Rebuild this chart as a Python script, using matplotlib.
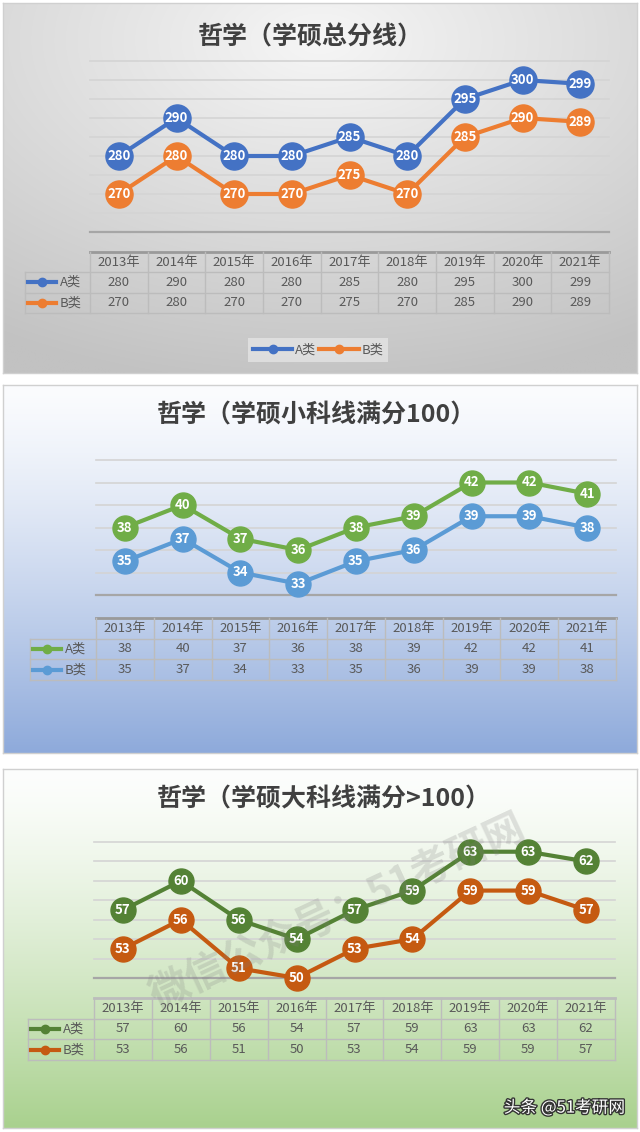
import numpy as np
import matplotlib
matplotlib.use('Agg')
import matplotlib.pyplot as plt
from matplotlib import patheffects
from matplotlib.colors import to_rgb
from matplotlib.lines import Line2D

plt.rcParams['font.family'] = ['Noto Sans CJK SC', 'DejaVu Sans']

years = ['2013年', '2014年', '2015年', '2016年', '2017年', '2018年', '2019年', '2020年', '2021年']
series_names = ['A类', 'B类']

total_a = [280, 290, 280, 280, 285, 280, 295, 300, 299]
total_b = [270, 280, 270, 270, 275, 270, 285, 290, 289]
small_a = [38, 40, 37, 36, 38, 39, 42, 42, 41]
small_b = [35, 37, 34, 33, 35, 36, 39, 39, 38]
big_a = [57, 60, 56, 54, 57, 59, 63, 63, 62]
big_b = [53, 56, 51, 50, 53, 54, 59, 59, 57]

W, H = 640, 1132
fig = plt.figure(figsize=(W / 100, H / 100), dpi=100)


def rect(x0, y0, x1, y1):
    return [x0 / W, 1 - y1 / H, (x1 - x0) / W, (y1 - y0) / H]


def background(box, kind, c_top, c_bot):
    ax = fig.add_axes(rect(*box))
    yy, xx = np.mgrid[0:1:300j, 0:1:300j]
    if kind == 'radial':
        t = np.sqrt((xx - 0.5) ** 2 + (yy - 0.1) ** 2) / 0.95
    else:
        t = yy ** 1.3
    t = np.clip(t, 0, 1)
    c0 = np.array(to_rgb(c_top))
    c1 = np.array(to_rgb(c_bot))
    ax.imshow(c0 + (c1 - c0) * t[..., None], aspect='auto', interpolation='bilinear')
    ax.set_xticks([])
    ax.set_yticks([])
    for s in ax.spines.values():
        s.set_color('#d0d0d0')
        s.set_linewidth(1)
    return ax


def panel(title, title_pos, plot_box, table_box, ylim, step, a, b, ca, cb, ms=18, head_line='#9a9a9a'):
    fig.text(title_pos[0] / W, 1 - title_pos[1] / H, title, ha='center', va='center',
             fontsize=18, fontweight='bold', color='#404040')

    axp = fig.add_axes(rect(*plot_box))
    axp.patch.set_alpha(0)
    x = np.arange(len(years))
    axp.set_xlim(-0.5, len(years) - 0.5)
    axp.set_ylim(*ylim)
    ticks = np.arange(ylim[0], ylim[1] + step / 2, step)
    for v in ticks[1:]:
        axp.axhline(v, color='#d4d4d4', lw=1.2, zorder=1, clip_on=False)
    axp.axhline(ticks[0], color='#a6a6a6', lw=1.6, zorder=1, clip_on=False)
    for vals, c in ((a, ca), (b, cb)):
        axp.plot(x, vals, color=c, lw=3, marker='o', ms=ms, clip_on=False, zorder=3)
        for xi, v in zip(x, vals):
            axp.text(xi, v, str(v), color='white', ha='center', va='center',
                     fontsize=9.5, fontweight='bold', zorder=4)
    axp.axis('off')

    axt = fig.add_axes(rect(*table_box))
    col_w = (plot_box[2] - plot_box[0]) / len(years)
    lw_u = (plot_box[0] - table_box[0]) / col_w
    left = -0.5 - lw_u
    axt.set_xlim(left, len(years) - 0.5)
    axt.set_ylim(3, 0)
    axt.axis('off')
    line = dict(color='#bcbcbc', lw=1, clip_on=False)
    axt.plot([-0.5, len(years) - 0.5], [0, 0], color=head_line, lw=2, clip_on=False)
    for r in (1, 2, 3):
        axt.plot([left, len(years) - 0.5], [r, r], **line)
    for i in range(len(years) + 1):
        axt.plot([i - 0.5, i - 0.5], [0, 3], **line)
    axt.plot([left, left], [1, 3], **line)
    for i, yr in enumerate(years):
        axt.text(i, 0.5, yr, ha='center', va='center', fontsize=9.5, color='#595959')
        axt.text(i, 1.5, str(a[i]), ha='center', va='center', fontsize=9.5, color='#595959')
        axt.text(i, 2.5, str(b[i]), ha='center', va='center', fontsize=9.5, color='#595959')
    for r, (name, c) in enumerate(zip(series_names, (ca, cb))):
        yc = 1.5 + r
        axt.plot([left + 0.05, left + 0.53], [yc, yc], color=c, lw=3, clip_on=False)
        axt.plot([left + 0.29], [yc], marker='o', ms=6, color=c, clip_on=False)
        axt.text(left + 0.6, yc, name, ha='left', va='center', fontsize=9.5, color='#595959')
    return axp


# panel 1: total score
background((3, 3, 637, 373), 'radial', '#f6f6f6', '#c2c2c2')
panel('哲学（学硕总分线）', (310, 37), (90, 61, 609, 232), (25, 252, 609, 313),
      (260, 305), 5, total_a, total_b, '#4472C4', '#ED7D31', ms=19.5)
handles = [Line2D([0], [0], color=c, lw=3, marker='o', ms=6) for c in ('#4472C4', '#ED7D31')]
leg = fig.legend(handles, series_names, loc='center', bbox_to_anchor=(318 / W, 1 - 350 / H),
                 ncol=2, fontsize=9.5, handlelength=3, handletextpad=0.2, columnspacing=0.2,
                 frameon=True, fancybox=False, borderpad=0.4)
leg.get_frame().set_facecolor('#e4e4e4')
leg.get_frame().set_edgecolor('none')
for t in leg.get_texts():
    t.set_color('#595959')

# panel 2: small subjects
background((3, 385, 637, 753), 'linear', '#fbfcfe', '#8eaadb')
panel('哲学（学硕小科线满分100）', (316, 415), (96, 460, 616, 595), (30, 618, 616, 680),
      (32, 44), 2, small_a, small_b, '#70AD47', '#5B9BD5')

# panel 3: big subjects
background((3, 769, 637, 1128), 'linear', '#fdfefd', '#a9d18e')
panel('哲学（学硕大科线满分>100）', (324, 799), (94, 842, 615, 978), (28, 998, 615, 1060),
      (50, 64), 2, big_a, big_b, '#548235', '#C55A11', head_line='#bcbcbc')

fig.text(338 / W, 1 - 912 / H, '微信公众号：51考研网', rotation=25, ha='center', va='center',
         fontsize=29, fontweight='bold', color='#7f7f7f', alpha=0.22)
fig.text(625 / W, 1 - 1108 / H, '头条 @51考研网', ha='right', va='center', fontsize=12,
         color='white', path_effects=[patheffects.withStroke(linewidth=2, foreground='#333333')])

fig.savefig('out.png', dpi=100)
